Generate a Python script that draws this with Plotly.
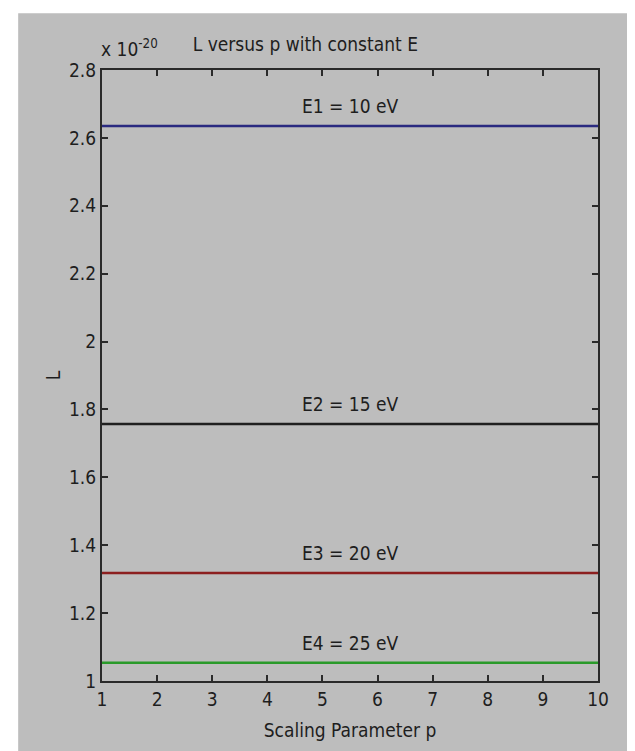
import plotly.graph_objects as go

# ---- data ----
p_values = [1, 2, 3, 4, 5, 6, 7, 8, 9, 10]
energies_ev = [10, 15, 20, 25]
series_names = ["E1 = 10 eV", "E2 = 15 eV", "E3 = 20 eV", "E4 = 25 eV"]
L_values = [2.635, 1.757, 1.318, 1.054]  # in units of 1e-20
line_colors = ["#2a2a80", "#202020", "#8c1f1f", "#2a9a2a"]
x_ticks = [1, 2, 3, 4, 5, 6, 7, 8, 9, 10]
y_ticks = [1, 1.2, 1.4, 1.6, 1.8, 2, 2.2, 2.4, 2.6, 2.8]
y_ticklabels = ["1", "1.2", "1.4", "1.6", "1.8", "2", "2.2", "2.4", "2.6", "2.8"]

FONT = "Liberation Sans Narrow, DejaVu Sans Condensed, Liberation Sans, sans-serif"
GRAY = "#bdbdbd"
TXT = "#1e1e1e"

fig = go.Figure()
for name, L, col in zip(series_names, L_values, line_colors):
    fig.add_trace(go.Scatter(
        x=p_values, y=[L] * len(p_values), mode="lines", name=name,
        line=dict(color=col, width=2.5), showlegend=False,
    ))
    fig.add_annotation(
        x=5.5, y=L, xref="x", yref="y", text=name, showarrow=False,
        yanchor="bottom", yshift=7, font=dict(family=FONT, size=19, color=TXT),
    )

# MATLAB-style exponent label
fig.add_annotation(
    x=0, y=1, xref="paper", yref="paper", xanchor="left", yanchor="bottom",
    text="x 10<sup>-20</sup>", showarrow=False, yshift=8, xshift=-3,
    font=dict(family=FONT, size=19, color=TXT),
)

# figure background (gray with thin white border)
fig.add_shape(type="rect", xref="paper", yref="paper",
              x0=-0.169, x1=1.065, y0=-0.118, y1=1.093,
              fillcolor=GRAY, line=dict(width=0), layer="below")

axis_common = dict(
    showgrid=False, zeroline=False, showline=True, mirror="ticks",
    linecolor="#2a2a2a", linewidth=2, ticks="inside", ticklen=6,
    tickcolor="#2a2a2a", tickwidth=2,
    tickfont=dict(family=FONT, size=19, color=TXT),
)

fig.update_layout(
    width=635, height=751,
    margin=dict(l=94, r=45, t=62, b=78),
    paper_bgcolor="white", plot_bgcolor=GRAY,
    title=dict(text="L versus p with constant E", xref="paper", x=0.41,
               xanchor="center", y=0.951, yanchor="middle",
               font=dict(family=FONT, size=19, color=TXT)),
    xaxis=dict(range=[1, 10], tickvals=x_ticks,
               title=dict(text="Scaling Parameter p", standoff=15,
                          font=dict(family=FONT, size=19, color=TXT)),
               **axis_common),
    yaxis=dict(range=[1, 2.8], tickvals=y_ticks, ticktext=y_ticklabels,
               title=dict(text="L", standoff=3,
                          font=dict(family=FONT, size=19, color=TXT)),
               **axis_common),
)

fig.write_html("out.html")
